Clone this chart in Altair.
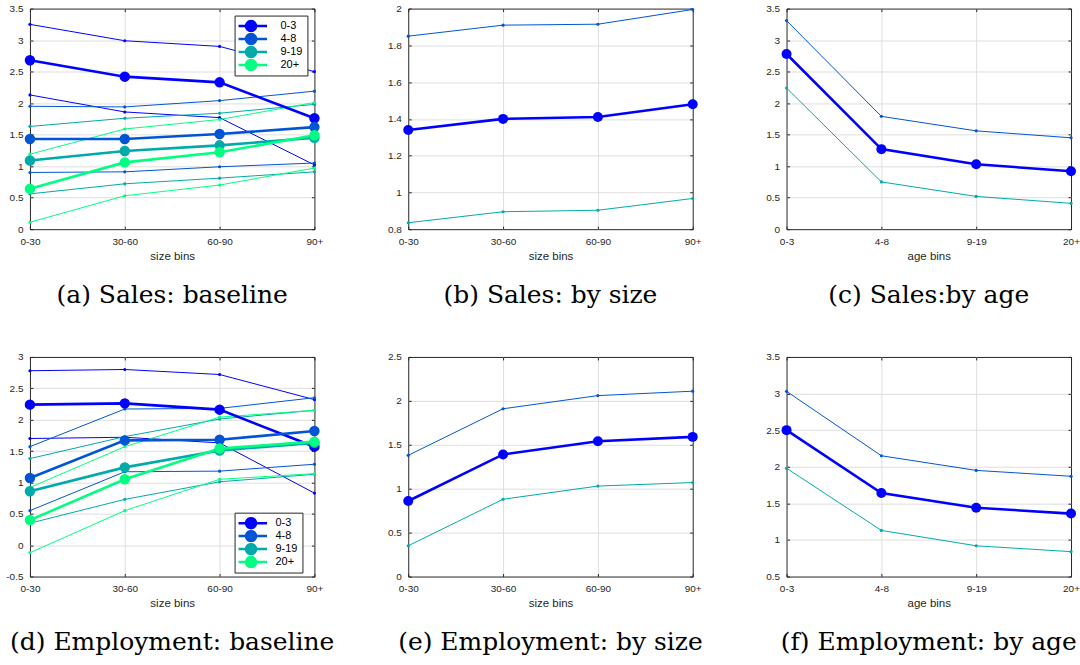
import math
import altair as alt
import pandas as pd

# ---------------- data ----------------
SIZE_BINS = ["0-30", "30-60", "60-90", "90+"]
AGE_BINS = ["0-3", "4-8", "9-19", "20+"]
AGE_GROUPS = ["0-3", "4-8", "9-19", "20+"]
GROUP_COLORS = ["#0000FF", "#0055D5", "#00AAAA", "#00FF80"]
ROLES = ["estimate", "upper", "lower"]
ROLE_COLORS = ["#0000FF", "#0055D5", "#00AAAA"]

# (a) Sales: baseline -- one row per age group, one column per size bin
A_EST = [[2.68, 2.42, 2.33, 1.76], [1.43, 1.43, 1.51, 1.62],
         [1.09, 1.24, 1.33, 1.45], [0.64, 1.06, 1.22, 1.49]]
A_UP = [[3.25, 2.99, 2.90, 2.50], [1.95, 1.94, 2.04, 2.19],
        [1.63, 1.76, 1.84, 1.98], [1.19, 1.59, 1.74, 2.01]]
A_LO = [[2.13, 1.86, 1.77, 1.02], [0.90, 0.91, 0.99, 1.05],
        [0.56, 0.72, 0.81, 0.91], [0.11, 0.53, 0.70, 0.97]]

# (d) Employment: baseline
D_EST = [[2.24, 2.26, 2.16, 1.57], [1.07, 1.67, 1.68, 1.82],
         [0.86, 1.24, 1.51, 1.63], [0.40, 1.05, 1.54, 1.65]]
D_UP = [[2.78, 2.80, 2.72, 2.32], [1.57, 2.17, 2.18, 2.35],
        [1.38, 1.73, 2.01, 2.15], [0.92, 1.57, 2.04, 2.15]]
D_LO = [[1.70, 1.72, 1.63, 0.83], [0.55, 1.17, 1.18, 1.29],
        [0.35, 0.73, 1.01, 1.13], [-0.12, 0.55, 1.05, 1.14]]

# (b) Sales: by size
B_EST = [1.34, 1.40, 1.41, 1.48]
B_UP = [1.85, 1.91, 1.915, 1.995]
B_LO = [0.835, 0.895, 0.903, 0.967]
# (c) Sales: by age
C_EST = [2.78, 1.27, 1.03, 0.92]
C_UP = [3.31, 1.79, 1.56, 1.45]
C_LO = [2.24, 0.75, 0.52, 0.41]
# (e) Employment: by size
E_EST = [0.86, 1.39, 1.54, 1.59]
E_UP = [1.38, 1.91, 2.06, 2.11]
E_LO = [0.35, 0.88, 1.03, 1.07]
# (f) Employment: by age
F_EST = [2.50, 1.64, 1.44, 1.36]
F_UP = [3.03, 2.15, 1.95, 1.87]
F_LO = [1.98, 1.13, 0.92, 0.84]

Y_TICKS_A = [0, 0.5, 1, 1.5, 2, 2.5, 3, 3.5]
Y_TICKS_B = [0.8, 1.0, 1.2, 1.4, 1.6, 1.8, 2.0]
Y_TICKS_C = [0, 0.5, 1, 1.5, 2, 2.5, 3, 3.5]
Y_TICKS_D = [-0.5, 0, 0.5, 1, 1.5, 2, 2.5, 3]
Y_TICKS_E = [0, 0.5, 1, 1.5, 2, 2.5]
Y_TICKS_F = [0.5, 1, 1.5, 2, 2.5, 3, 3.5]

CAPTIONS = ["(a) Sales: baseline", "(b) Sales: by size", "(c) Sales:by age",
            "(d) Employment: baseline", "(e) Employment: by size", "(f) Employment: by age"]

# ---------------- style ----------------
FONT = "Liberation Sans"
CAP_FONT = "DejaVu Serif"
TEXT = "#262626"
FRAME = "#262626"
GRID = "#dedede"


def polygon_circle(r, n=20):
    pts = [(r * math.cos(2 * math.pi * k / n), r * math.sin(2 * math.pi * k / n)) for k in range(n)]
    return "M " + " L ".join(f"{x:.3f} {y:.3f}" for x, y in pts) + " Z"


LEGEND_PATH = "M -3.2 0 L 3.2 0 " + polygon_circle(1.0)


def baseline_frame(est, up, lo, bins):
    rows = []
    for g, e_row, u_row, l_row in zip(AGE_GROUPS, est, up, lo):
        for b, e, u, l in zip(bins, e_row, u_row, l_row):
            rows.append(dict(cat=b, value=e, key=g, kind="thick", line=g))
            rows.append(dict(cat=b, value=u, key=g, kind="thin", line=g + " upper"))
            rows.append(dict(cat=b, value=l, key=g, kind="thin", line=g + " lower"))
    return pd.DataFrame(rows)


def single_frame(est, up, lo, bins):
    rows = []
    for b, e, u, l in zip(bins, est, up, lo):
        rows.append(dict(cat=b, value=e, key="estimate", kind="thick", line="estimate"))
        rows.append(dict(cat=b, value=u, key="upper", kind="thin", line="upper"))
        rows.append(dict(cat=b, value=l, key="lower", kind="thin", line="lower"))
    return pd.DataFrame(rows)


def panel(df, bins, keys, colors, yticks, xtitle, caption, w, h, legend=None):
    # line colours use a prefixed key so that their (hidden) legend never merges
    # with the visible marker legend
    df = df.assign(ckey="c:" + df["key"])
    base = alt.Chart(df)
    xs = alt.Scale(type="point", padding=0, domain=bins)
    ys = alt.Scale(domain=[yticks[0], yticks[-1]], nice=False, zero=False)
    cs = alt.Scale(domain=keys, range=colors)
    cs_lines = alt.Scale(domain=["c:" + k for k in keys], range=colors)

    x_edge = f"datum.value == '{bins[0]}' || datum.value == '{bins[-1]}'"
    y_edge = f"abs(datum.value - ({yticks[0]})) < 1e-6 || abs(datum.value - ({yticks[-1]})) < 1e-6"

    x_main = alt.X("cat:N", scale=xs, title=xtitle, axis=alt.Axis(
        orient="bottom", values=bins, labelAngle=0, grid=True,
        gridColor={"condition": {"test": x_edge, "value": "transparent"}, "value": GRID},
        gridWidth=1, domain=False, ticks=True, tickSize=3, tickColor=FRAME, tickWidth=1,
        offset=-3, labelPadding=7, labelFont=FONT, labelFontSize=10, labelColor=TEXT,
        titleFont=FONT, titleFontSize=11.5, titleFontWeight="normal", titleColor=TEXT,
        titlePadding=4))
    y_main = alt.Y("value:Q", scale=ys, title=None, axis=alt.Axis(
        orient="left", values=yticks, grid=True,
        gridColor={"condition": {"test": y_edge, "value": "transparent"}, "value": GRID},
        gridWidth=1, domain=False, ticks=True, tickSize=3, tickColor=FRAME, tickWidth=1,
        offset=-3, labelPadding=7, labelFont=FONT, labelFontSize=10, labelColor=TEXT,
        labelFlush=False, labelOverlap=False,
        labelExpr="replace(format(datum.value, '.1~f'), '\u2212', '-')"))
    x_plain = alt.X("cat:N", scale=xs, axis=None)
    y_plain = alt.Y("value:Q", scale=ys, axis=None)
    x_top = alt.X("cat:N", scale=xs, title=None, axis=alt.Axis(
        orient="top", values=bins, labels=False, grid=False, domain=False,
        tickSize=3, tickColor=FRAME, tickWidth=1, offset=-3))
    y_right = alt.Y("value:Q", scale=ys, title=None, axis=alt.Axis(
        orient="right", values=yticks, labels=False, grid=False, domain=False,
        tickSize=3, tickColor=FRAME, tickWidth=1, offset=-3))

    c_lines = alt.Color("ckey:N", scale=cs_lines, legend=None)

    thin = base.transform_filter("datum.kind == 'thin'")
    thick = base.transform_filter("datum.kind == 'thick'")
    if legend is not None:
        markers = thick.mark_point(filled=True, size=72, opacity=1).encode(
            x=x_plain, y=y_plain,
            fill=alt.Fill("key:N", scale=cs, legend=legend),
            stroke=alt.Stroke("key:N", scale=cs, legend=legend))
    else:
        markers = thick.mark_circle(size=100, opacity=1).encode(
            x=x_plain, y=y_plain, color=c_lines)
    layers = [
        thin.mark_line(strokeWidth=1).encode(x=x_main, y=y_main, color=c_lines, detail="line:N"),
        thin.mark_circle(size=10, opacity=1).encode(x=x_plain, y=y_plain, color=c_lines),
        thick.mark_line(strokeWidth=2.6).encode(x=x_plain, y=y_plain, color=c_lines, detail="line:N"),
        markers,
        thin.mark_point(opacity=0).encode(x=x_top, y=y_right),
    ]
    return alt.layer(*layers).resolve_axis(x="independent", y="independent").properties(
        width=w, height=h,
        title=alt.TitleParams(text=caption, orient="bottom", anchor="middle", font=CAP_FONT,
                              fontSize=25, fontWeight="normal", color="black", offset=21))


def legend_at(x, y, spaces, label_offset):
    return alt.Legend(title=None, orient="none", legendX=x, legendY=y,
                      symbolType=LEGEND_PATH, symbolSize=100, symbolStrokeWidth=2.5,
                      symbolOffset=6, labelOffset=label_offset, clipHeight=13,
                      labelFont=FONT, labelFontSize=11, labelColor="black",
                      labelExpr="datum.label + '" + " " * spaces + "'",
                      fillColor="white", strokeColor=FRAME, padding=4, rowPadding=0)


pa = panel(baseline_frame(A_EST, A_UP, A_LO, SIZE_BINS), SIZE_BINS, AGE_GROUPS, GROUP_COLORS,
           Y_TICKS_A, "size bins", CAPTIONS[0], 285, 221, legend=legend_at(205, 7, 0, 23))
pb = panel(single_frame(B_EST, B_UP, B_LO, SIZE_BINS), SIZE_BINS, ROLES, ROLE_COLORS,
           Y_TICKS_B, "size bins", CAPTIONS[1], 285, 221)
pc = panel(single_frame(C_EST, C_UP, C_LO, AGE_BINS), AGE_BINS, ROLES, ROLE_COLORS,
           Y_TICKS_C, "age bins", CAPTIONS[2], 285, 221)
pd_ = panel(baseline_frame(D_EST, D_UP, D_LO, SIZE_BINS), SIZE_BINS, AGE_GROUPS, GROUP_COLORS,
            Y_TICKS_D, "size bins", CAPTIONS[3], 285, 220, legend=legend_at(205, 156, 0, 18))
pe = panel(single_frame(E_EST, E_UP, E_LO, SIZE_BINS), SIZE_BINS, ROLES, ROLE_COLORS,
           Y_TICKS_E, "size bins", CAPTIONS[4], 285, 220)
pf = panel(single_frame(F_EST, F_UP, F_LO, AGE_BINS), AGE_BINS, ROLES, ROLE_COLORS,
           Y_TICKS_F, "age bins", CAPTIONS[5], 285, 220)

chart = alt.concat(
    pa, pb, pc, pd_, pe, pf, columns=3, spacing={"row": 128, "column": 94}, bounds="flush"
).resolve_scale(color="independent", fill="independent", stroke="independent").properties(
    padding={"left": 5, "top": 2, "right": 0, "bottom": 0}
).configure(background="white", font=FONT).configure_view(stroke=FRAME, strokeWidth=1)

chart.save("out.html", embed_options={"renderer": "svg", "actions": False})
